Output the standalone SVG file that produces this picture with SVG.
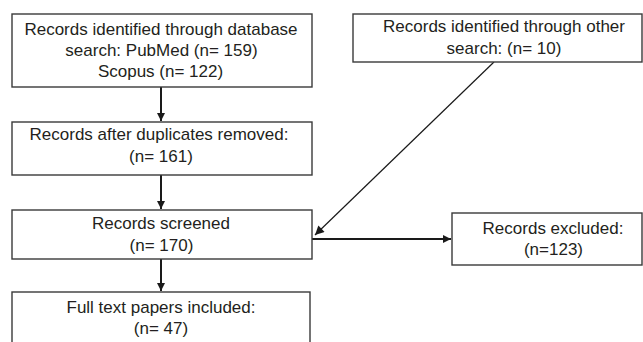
<svg xmlns="http://www.w3.org/2000/svg" width="643" height="342" viewBox="0 0 643 342">
<defs>
<style>
.box{fill:#fff;stroke:#3a3a3a;stroke-width:1.4}
.t{font-family:"Liberation Sans",Arial,sans-serif;font-size:17px;fill:#231f20;text-anchor:middle}
.c{stroke:#1a1a1a;stroke-width:2;fill:none}
.d{stroke:#1a1a1a;stroke-width:1.2;fill:none}
</style>
<marker id="ah" viewBox="0 0 10 10" refX="10" refY="5" markerWidth="8" markerHeight="9" markerUnits="userSpaceOnUse" orient="auto">
<path d="M0,0 L10,5 L0,10 z" fill="#1a1a1a"/>
</marker>
<marker id="ah2" viewBox="0 0 10 10" refX="10" refY="5" markerWidth="10" markerHeight="9" markerUnits="userSpaceOnUse" orient="auto">
<path d="M0,0 L10,5 L0,10 z" fill="#1a1a1a"/>
</marker>
</defs>
<rect width="643" height="342" fill="#fff"/>
<g id="connectors">
<line class="c" x1="161" y1="87" x2="161" y2="121" marker-end="url(#ah)"/>
<line class="c" x1="161" y1="175" x2="161" y2="209" marker-end="url(#ah)"/>
<line class="c" x1="161" y1="259" x2="161" y2="291" marker-end="url(#ah)"/>
<line class="c" x1="312" y1="239" x2="451" y2="239" marker-end="url(#ah)"/>
<line class="d" x1="494" y1="62" x2="315" y2="235" marker-end="url(#ah2)"/>
</g>
<g id="db-search">
<rect class="box" x="12" y="14" width="300" height="73"/>
<text class="t" x="161" y="34.5">Records identified through database</text>
<text class="t" x="161.5" y="55.5">search: PubMed (n= 159)</text>
<text class="t" x="160.5" y="76.5">Scopus (n= 122)</text>
</g>
<g id="other-search">
<rect class="box" x="353" y="14" width="289" height="48"/>
<text class="t" x="504" y="32">Records identified through other</text>
<text class="t" x="504" y="53.5">search: (n= 10)</text>
</g>
<g id="duplicates">
<rect class="box" x="12" y="122" width="300" height="53"/>
<text class="t" x="159" y="140">Records after duplicates removed:</text>
<text class="t" x="161" y="161.5">(n= 161)</text>
</g>
<g id="screened">
<rect class="box" x="12" y="210" width="300" height="49"/>
<text class="t" x="161" y="229">Records screened</text>
<text class="t" x="161.5" y="251">(n= 170)</text>
</g>
<g id="excluded">
<rect class="box" x="452" y="213" width="190" height="52"/>
<text class="t" x="553" y="234">Records excluded:</text>
<text class="t" x="553.5" y="255">(n=123)</text>
</g>
<g id="included">
<rect class="box" x="12" y="292" width="298" height="70"/>
<text class="t" x="161" y="313">Full text papers included:</text>
<text class="t" x="161" y="334">(n= 47)</text>
</g>
</svg>
